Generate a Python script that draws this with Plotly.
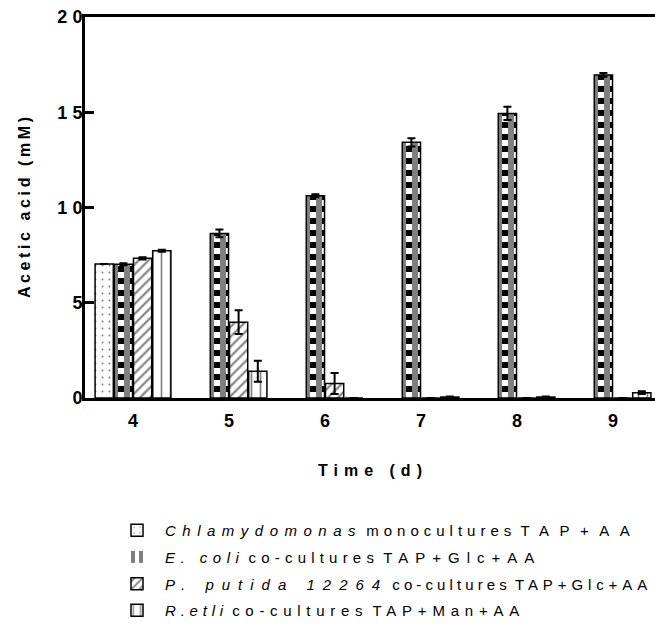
import plotly.graph_objects as go

# ---- data -------------------------------------------------------------
days = [4, 5, 6, 7, 8, 9]
day_labels = ["4", "5", "6", "7", "8", "9"]

chlamy = [7.03, None, None, None, None, None]
chlamy_err = [0.0, None, None, None, None, None]

ecoli = [7.02, 8.64, 10.62, 13.42, 14.94, 16.96]
ecoli_err = [0.05, 0.2, 0.08, 0.22, 0.35, 0.1]

pputida = [7.33, 3.98, 0.76, 0.0, 0.0, 0.0]
pputida_err = [0.06, 0.62, 0.55, 0.0, 0.0, 0.0]

retli = [7.73, 1.4, 0.0, 0.05, 0.05, 0.28]
retli_err = [0.05, 0.55, 0.0, 0.03, 0.03, 0.07]

y_ticks = [0, 5, 10, 15, 20]
y_tick_labels = ["0", "5", "10", "15", "20"]

# legend entries: (text, letter spacing px, italic)
chlamy_name = [("Chlamydomonas", 6.5, True), ("monocultures", 5.0, False),
               ("TAP+AA", 10.5, False)]
ecoli_name = [("E. coli", 5.5, True), ("co-cultures", 5.2, False),
              ("TAP+Glc+AA", 7.0, False)]
pputida_name = [("P. putida 12264", 8.0, True), ("co-cultures", 4.1, False),
                ("TAP+Glc+AA", 4.9, False)]
retli_name = [("R.etli", 4.8, True), ("co-cultures", 5.7, False),
              ("TAP+Man+AA", 5.8, False)]

x_title = "Time (d)"
y_title = "Acetic acid (mM)"

# ---- styling helpers ------------------------------------------------------
FONT = "Arial, Liberation Sans, sans-serif"


def spaced(text, px):
    """Letter-spaced text without trailing space after the last glyph."""
    if len(text) < 2:
        return text
    return f'<span style="letter-spacing:{px}px">{text[:-1]}</span>{text[-1]}'


def legend_label(parts):
    out = []
    for text, px, italic in parts:
        s = f'<span style="letter-spacing:{px}px">{text}</span>'
        out.append(f"<i>{s}</i>" if italic else s)
    return " ".join(out)


BAR_W = 0.19
OFFSETS = [-0.4 + i * 0.2 + 0.005 for i in range(4)]
LINE = dict(color="black", width=1.5)


def errs(vals, width=4):
    return dict(type="data", array=vals, visible=True, color="black",
                thickness=2, width=width)


fig = go.Figure()

# Chlamydomonas: dotted fill
fig.add_trace(go.Bar(
    x=days, y=chlamy, name=legend_label(chlamy_name), legendgroup="chlamy",
    width=BAR_W, offset=OFFSETS[0],
    marker=dict(color="white", line=LINE,
                pattern=dict(shape=".", size=7, solidity=0.06,
                             fgcolor="black", bgcolor="white")),
    error_y=errs(chlamy_err),
))

# E. coli: checkerboard built from a striped bar plus inverted alternate rows
CELL = 0.315  # height of one checker row, in mM
fig.add_trace(go.Bar(
    x=days, y=ecoli, name=legend_label(ecoli_name), legendgroup="ecoli",
    width=BAR_W, offset=OFFSETS[1],
    marker=dict(color="white", line=dict(width=0),
                pattern=dict(shape="|", size=12, solidity=0.5,
                             fgcolor="black", bgcolor="white")),
))

row_x, row_base, row_h = [], [], []
for d, v in zip(days, ecoli):
    b = CELL
    while b < v:
        row_x.append(d)
        row_base.append(b)
        row_h.append(min(CELL, v - b))
        b += 2 * CELL
fig.add_trace(go.Bar(
    x=row_x, y=row_h, base=row_base, showlegend=False, hoverinfo="skip",
    legendgroup="ecoli", width=BAR_W, offset=OFFSETS[1],
    marker=dict(color="black", line=dict(width=0),
                pattern=dict(shape="|", size=12, solidity=0.5,
                             fgcolor="white", bgcolor="black")),
))
fig.add_trace(go.Bar(
    x=days, y=ecoli, showlegend=False, legendgroup="ecoli",
    width=BAR_W, offset=OFFSETS[1],
    marker=dict(color="rgba(0,0,0,0)", line=LINE),
    error_y=errs(ecoli_err),
))

# P. putida: diagonal hatch
fig.add_trace(go.Bar(
    x=days, y=pputida, name=legend_label(pputida_name), legendgroup="pputida",
    width=BAR_W, offset=OFFSETS[2],
    marker=dict(color="white", line=LINE,
                pattern=dict(shape="/", size=7, solidity=0.3,
                             fgcolor="black", bgcolor="white")),
    error_y=errs(pputida_err),
))

# R. etli: vertical lines
fig.add_trace(go.Bar(
    x=days, y=retli, name=legend_label(retli_name), legendgroup="retli",
    width=BAR_W, offset=OFFSETS[3],
    marker=dict(color="white", line=LINE,
                pattern=dict(shape="|", size=9, solidity=0.18,
                             fgcolor="black", bgcolor="white")),
    error_y=errs(retli_err),
))

fig.update_layout(
    width=655, height=630,
    margin=dict(l=85, r=0, t=17, b=232, autoexpand=False),
    barmode="overlay",
    plot_bgcolor="white", paper_bgcolor="white",
    font=dict(family=FONT, color="black"),
    showlegend=True,
    legend=dict(
        x=(109 - 85) / 570, xanchor="left", y=-116 / 381, yanchor="top",
        itemwidth=46,
        font=dict(size=15, family=FONT, color="black"),
        bgcolor="rgba(0,0,0,0)", traceorder="grouped", tracegroupgap=4.2,
    ),
)

fig.update_xaxes(
    range=[3.5, 3.5 + 570 / 96],
    tickvals=days, ticktext=day_labels,
    tickfont=dict(size=18, family=FONT, weight="bold"),
    ticklabelstandoff=4,
    showline=True, linewidth=3, linecolor="black", mirror=True,
    ticks="", showgrid=False, zeroline=False,
    title=dict(text=spaced(x_title, 6),
               font=dict(size=16, family=FONT, weight="bold"), standoff=36),
)
fig.update_yaxes(
    range=[0, 20],
    tickvals=y_ticks, ticktext=[spaced(t, 5) for t in y_tick_labels],
    tickfont=dict(size=18, family=FONT, weight="bold"),
    ticklabelstandoff=-4,
    showline=True, linewidth=3, linecolor="black",
    ticks="inside", ticklen=9, tickwidth=3, tickcolor="black",
    showgrid=False, zeroline=False,
    title=dict(text=spaced(y_title, 3.6),
               font=dict(size=16, family=FONT, weight="bold"), standoff=23),
)

fig.write_html("out.html")
